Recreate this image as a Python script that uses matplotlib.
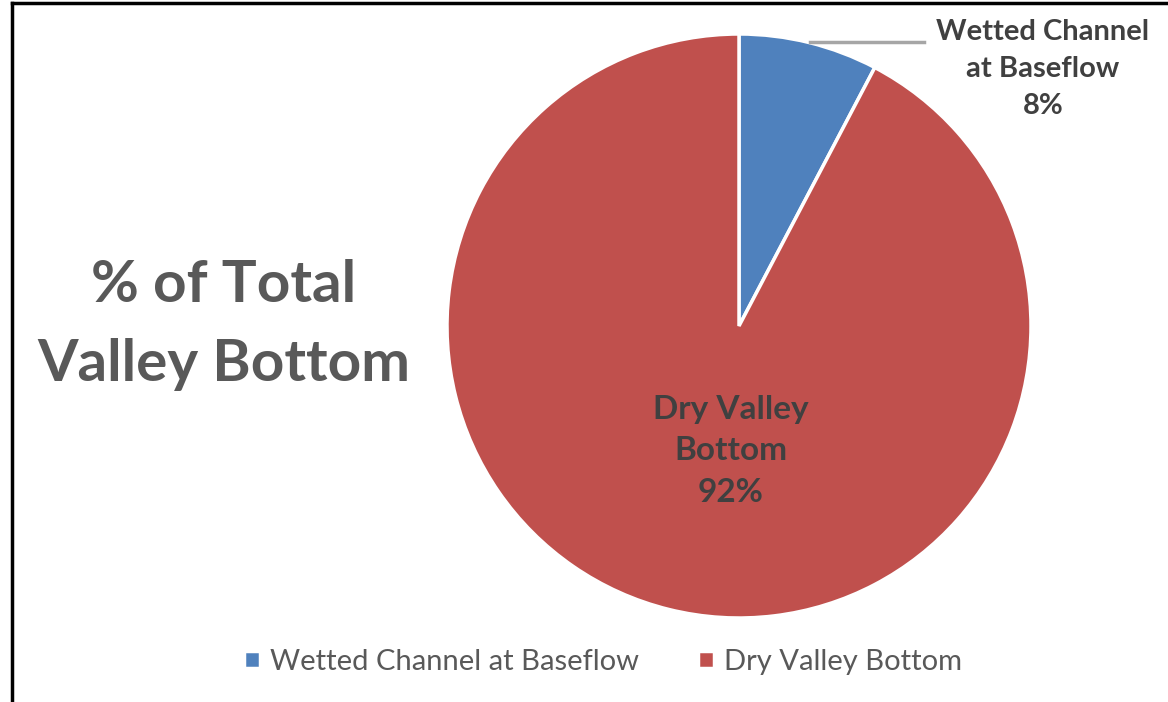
import matplotlib.pyplot as plt
from matplotlib.lines import Line2D

labels = ['Wetted Channel at Baseflow', 'Dry Valley Bottom']
label_text = ['Wetted Channel\nat Baseflow', 'Dry Valley\nBottom']
shares = [7.7, 92.3]
colors = ['#4F81BD', '#C0504D']

plt.rcParams['font.family'] = ['Lato', 'DejaVu Sans']

W, H = 1168, 702
fig = plt.figure(figsize=(W / 100, H / 100), dpi=100)
ax = fig.add_axes([0, 0, 1, 1])

cx, cy, r = 739, H - 326, 292
wedges, _ = ax.pie(shares, colors=colors, startangle=90, counterclock=False,
                   center=(cx, cy), radius=r, frame=True,
                   wedgeprops=dict(edgecolor='white', linewidth=2.5))
ax.set_xlim(0, W)
ax.set_ylim(0, H)
ax.set_aspect('equal')
ax.axis('off')

pct = [f'{round(v):.0f}%' for v in shares]
# label for the small slice, outside with leader line
ax.plot([810, 924], [H - 42, H - 42], color='#A6A6A6', lw=2.5)
ax.text(1043, H - 69, label_text[0] + '\n' + pct[0], ha='center', va='center',
        fontsize=21, fontweight='bold', color='#404040', linespacing=1.5)
ax.text(731, H - 451, label_text[1] + '\n' + pct[1], ha='center', va='center',
        fontsize=24, fontweight='bold', color='#404040', linespacing=1.5)

ax.text(224, H - 325, '% of Total\nValley Bottom', ha='center', va='center',
        fontsize=42, fontweight='bold', color='#595959', linespacing=1.6)

leg = ax.legend(wedges, labels, loc='center', bbox_to_anchor=(603 / W, (H - 662) / H),
                ncol=2, frameon=False, fontsize=21, handlelength=0.55, handleheight=0.55,
                columnspacing=2.0, handletextpad=0.35, labelcolor='#595959')

# chart frame (only left and top edges visible)
ax.add_line(Line2D([12, 12], [0, H - 3], color='black', lw=2.5))
ax.add_line(Line2D([12, W], [H - 3, H - 3], color='black', lw=2.5))

fig.savefig('out.png', dpi=100, facecolor='white')
